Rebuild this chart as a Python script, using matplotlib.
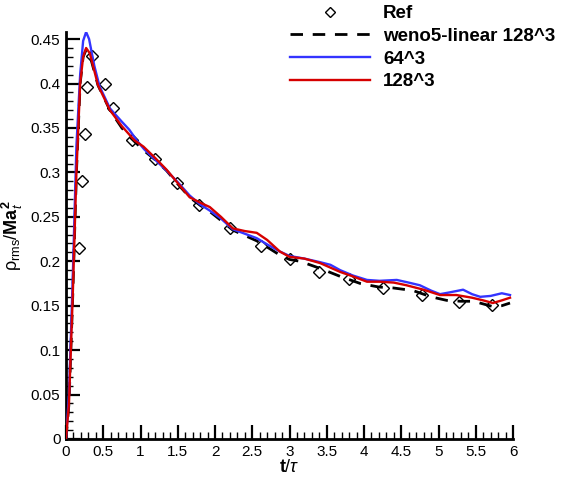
import matplotlib
matplotlib.use("Agg")
import matplotlib.pyplot as plt
from matplotlib.ticker import MultipleLocator

plt.rcParams['font.family'] = ['Liberation Sans', 'DejaVu Sans']
plt.rcParams['mathtext.fontset'] = 'custom'
plt.rcParams['mathtext.rm'] = 'Liberation Sans'
plt.rcParams['mathtext.it'] = 'Liberation Sans:italic'
plt.rcParams['mathtext.bf'] = 'Liberation Sans:bold'

# reference points
t_ref = [0.179, 0.21, 0.255, 0.277, 0.345, 0.523, 0.635, 0.88, 1.2, 1.49, 1.78,
         2.2, 2.62, 3.0, 3.4, 3.8, 4.26, 4.78, 5.28, 5.72]
v_ref = [0.2145, 0.290, 0.343, 0.396, 0.431, 0.399, 0.373, 0.337, 0.315, 0.288, 0.263,
         0.237, 0.217, 0.203, 0.188, 0.180, 0.170, 0.162, 0.154, 0.151]

# weno5-linear 128^3
t_lin = [0, 0.04, 0.09, 0.14, 0.19, 0.23, 0.27, 0.32, 0.43, 0.59, 0.75, 0.88, 1.04,
         1.2, 1.35, 1.5, 1.66, 1.8, 1.93, 2.08, 2.24, 2.4, 2.56, 2.7, 2.87, 3.0, 3.14,
         3.41, 3.68, 3.95, 4.2, 4.39, 4.66, 4.9, 5.11, 5.3, 5.47, 5.6, 5.73, 5.85, 5.96]
v_lin = [0.0, 0.04, 0.16, 0.30, 0.40, 0.43, 0.438, 0.432, 0.398, 0.370, 0.350, 0.338, 0.325,
         0.314, 0.302, 0.287, 0.272, 0.263, 0.256, 0.246, 0.235, 0.229, 0.223, 0.216, 0.207, 0.202, 0.200,
         0.192, 0.183, 0.175, 0.171, 0.170, 0.167, 0.160, 0.156, 0.155, 0.155, 0.152, 0.149, 0.150, 0.153]

# 64^3
t_64 = [0, 0.04, 0.09, 0.14, 0.19, 0.23, 0.27, 0.31, 0.38, 0.45, 0.59, 0.75, 0.85, 0.95,
        1.05, 1.2, 1.35, 1.5, 1.66, 1.8, 1.93, 2.08, 2.24, 2.4, 2.56, 2.7, 2.87, 3.0, 3.2,
        3.41, 3.55, 3.68, 3.85, 4.04, 4.21, 4.44, 4.6, 4.75, 4.9, 5.02, 5.15, 5.33, 5.45,
        5.56, 5.7, 5.85, 5.96]
v_64 = [0.0, 0.05, 0.18, 0.33, 0.41, 0.448, 0.458, 0.450, 0.420, 0.397, 0.372, 0.357, 0.348, 0.336,
        0.326, 0.314, 0.302, 0.289, 0.274, 0.264, 0.257, 0.248, 0.236, 0.231, 0.226, 0.219, 0.211, 0.206, 0.203,
        0.199, 0.196, 0.190, 0.184, 0.179, 0.178, 0.179, 0.176, 0.173, 0.167, 0.163, 0.165, 0.168, 0.163,
        0.160, 0.161, 0.164, 0.162]

# 128^3
t_128 = [0, 0.04, 0.09, 0.14, 0.19, 0.23, 0.27, 0.32, 0.43, 0.59, 0.75, 0.92, 1.04, 1.2,
         1.35, 1.5, 1.66, 1.8, 1.93, 2.08, 2.24, 2.4, 2.56, 2.7, 2.87, 3.0, 3.2, 3.41, 3.68,
         3.85, 4.04, 4.21, 4.4, 4.57, 4.8, 5.02, 5.24, 5.45, 5.6, 5.73, 5.85, 5.96]
v_128 = [0.0, 0.04, 0.16, 0.30, 0.40, 0.43, 0.440, 0.434, 0.398, 0.370, 0.352, 0.336, 0.329, 0.316,
         0.303, 0.288, 0.272, 0.266, 0.261, 0.250, 0.237, 0.234, 0.232, 0.224, 0.211, 0.205, 0.203, 0.198, 0.188,
         0.183, 0.177, 0.177, 0.176, 0.173, 0.168, 0.162, 0.162, 0.159, 0.156, 0.153, 0.156, 0.159]

fig = plt.figure(figsize=(5.61, 4.84), dpi=100)
ax = fig.add_axes([66/561, 1-439/484, (513-66)/561, (439-32)/484])

ax.plot(t_ref, v_ref, ls='none', marker='D', ms=6, mfc='white', mec='black', mew=1.0,
        label='Ref', zorder=2)
ax.plot(t_lin, v_lin, color='black', lw=2, dashes=(4.5, 3.5), label='weno5-linear 128^3', zorder=3)
ax.plot(t_64, v_64, color='#3434ff', lw=1.7, label='64^3', zorder=4)
ax.plot(t_128, v_128, color='#d60000', lw=1.7, label='128^3', zorder=5)

ax.set_xlim(0, 6)
ax.set_ylim(0, 0.458)
ax.xaxis.set_major_locator(MultipleLocator(0.5))
ax.xaxis.set_minor_locator(MultipleLocator(0.1))
ax.yaxis.set_major_locator(MultipleLocator(0.05))
ax.yaxis.set_minor_locator(MultipleLocator(0.01))
ax.xaxis.set_major_formatter(plt.FuncFormatter(lambda v, p: ('%g' % v)))
ax.yaxis.set_major_formatter(plt.FuncFormatter(lambda v, p: ('%g' % round(v, 2))))

for s in ['top', 'right']:
    ax.spines[s].set_visible(False)
for s in ['left', 'bottom']:
    ax.spines[s].set_linewidth(2)
ax.tick_params(which='major', direction='in', length=10, width=1.6, labelsize=11, pad=4)
ax.tick_params(which='minor', direction='in', length=5, width=1.0)

ax.set_xlabel(r'$\mathbf{t}/\tau$', fontsize=13, labelpad=0)
ax.set_ylabel(r'$\mathrm{\rho}_{\rm rms}/\mathbf{Ma}_{t}^{\mathbf{2}}$', fontsize=13, labelpad=4)

fig.legend(loc='upper left', bbox_to_anchor=(290/561, 1-5/484), frameon=False,
           prop={'weight': 'bold', 'size': 13.5}, handlelength=4.27, handletextpad=0.7,
           labelspacing=0.3, borderpad=0, borderaxespad=0, markerscale=0.8)

fig.savefig('out.png', dpi=100)
